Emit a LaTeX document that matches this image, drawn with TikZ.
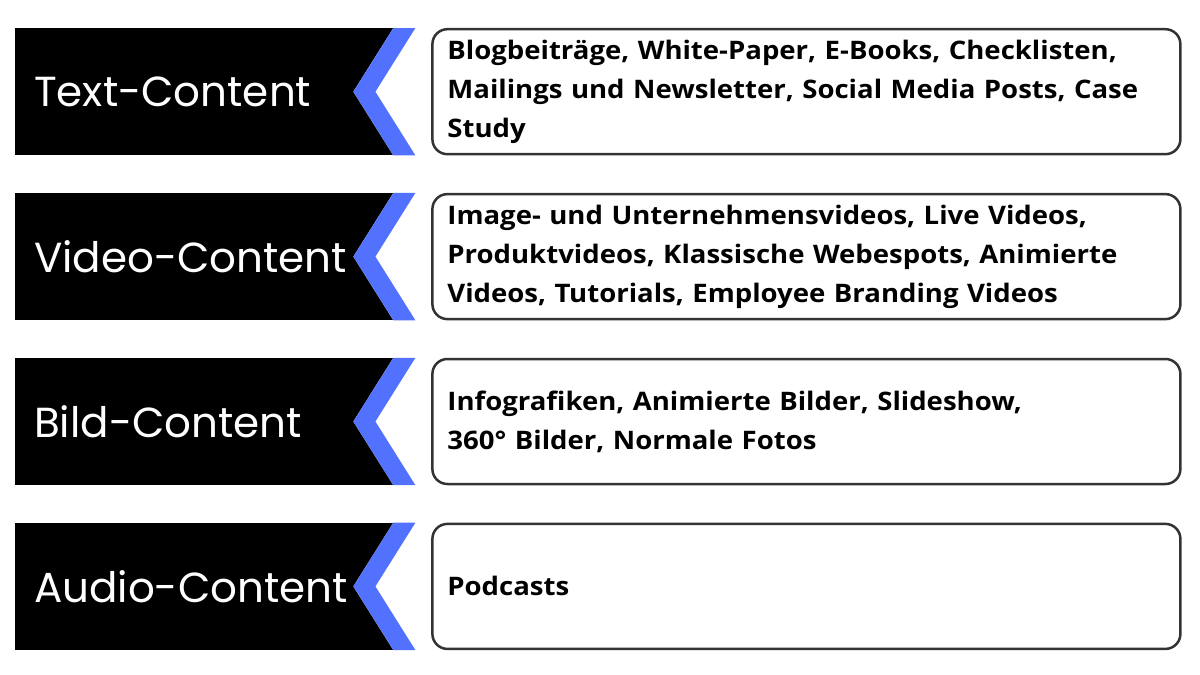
\documentclass[tikz,border=0pt]{standalone}
\usepackage{fontspec}
\newfontfamily\labelfont{Poppins}
\newfontfamily\inhaltfont[FakeStretch=1.08]{Open Sans}
\usetikzlibrary{positioning}
\definecolor{blau}{HTML}{5271FF}
\definecolor{rand}{HTML}{333333}
\tikzset{
    x=1pt, y=1pt,
    % Define style for the black category boxes
    kategorie/.style={
           rectangle,
           fill=black,
           text=white,
           minimum width=378pt,
           minimum height=127pt,
           inner xsep=19pt,
           text width=340pt,
           align=left,
           font=\labelfont\fontsize{42}{50}\selectfont},
    % Define style for the content boxes
    inhalt/.style={
           rectangle,
           rounded corners=15pt,
           draw=rand, line width=2.5pt,
           outer sep=0pt,
           minimum width=748pt,
           minimum height=125pt,
           inner xsep=15pt,
           text width=718pt,
           align=left,
           font=\inhaltfont\bfseries\fontsize{25.5}{39}\selectfont},
    % Define style for the chevron
    spitze/.style={fill=blau}
}
\begin{document}
\begin{tikzpicture}[node distance=37.5pt]
  \useasboundingbox (0,0) rectangle (1200,-675);
  \node[kategorie, anchor=north west] (text) at (15,-28) {Text-Content};
  \node[kategorie] (video) [below=of text] {Video-Content};
  \node[kategorie] (bild) [below=of video] {Bild-Content};
  \node[kategorie] (audio) [below=of bild] {Audio-Content};
  % chevrons
  \foreach \n in {text,video,bild,audio} {
    \fill[white] (\n.north east) -- ([xshift=-40pt]\n.east) -- (\n.south east) -- cycle;
    \fill[spitze] (\n.north east) -- ++(22,0) -- ([xshift=-18pt]\n.east)
      -- ([xshift=22pt]\n.south east) -- (\n.south east) -- ([xshift=-40pt]\n.east) -- cycle;
  }
  \node[inhalt] (textinhalt) [right=39pt of text] {Blogbeiträge, White-Paper, E-Books, Checklisten,\\ Mailings und Newsletter, Social Media Posts, Case\\ Study};
  \node[inhalt] (videoinhalt) [right=39pt of video] {Image- und Unternehmensvideos, Live Videos,\\ Produktvideos, Klassische Webespots, Animierte\\ Videos, Tutorials, Employee Branding Videos};
  \node[inhalt] (bildinhalt) [right=39pt of bild] {Infografiken, Animierte Bilder, Slideshow,\\ 360° Bilder, Normale Fotos};
  \node[inhalt] (audioinhalt) [right=39pt of audio] {Podcasts};
\end{tikzpicture}
\end{document}
